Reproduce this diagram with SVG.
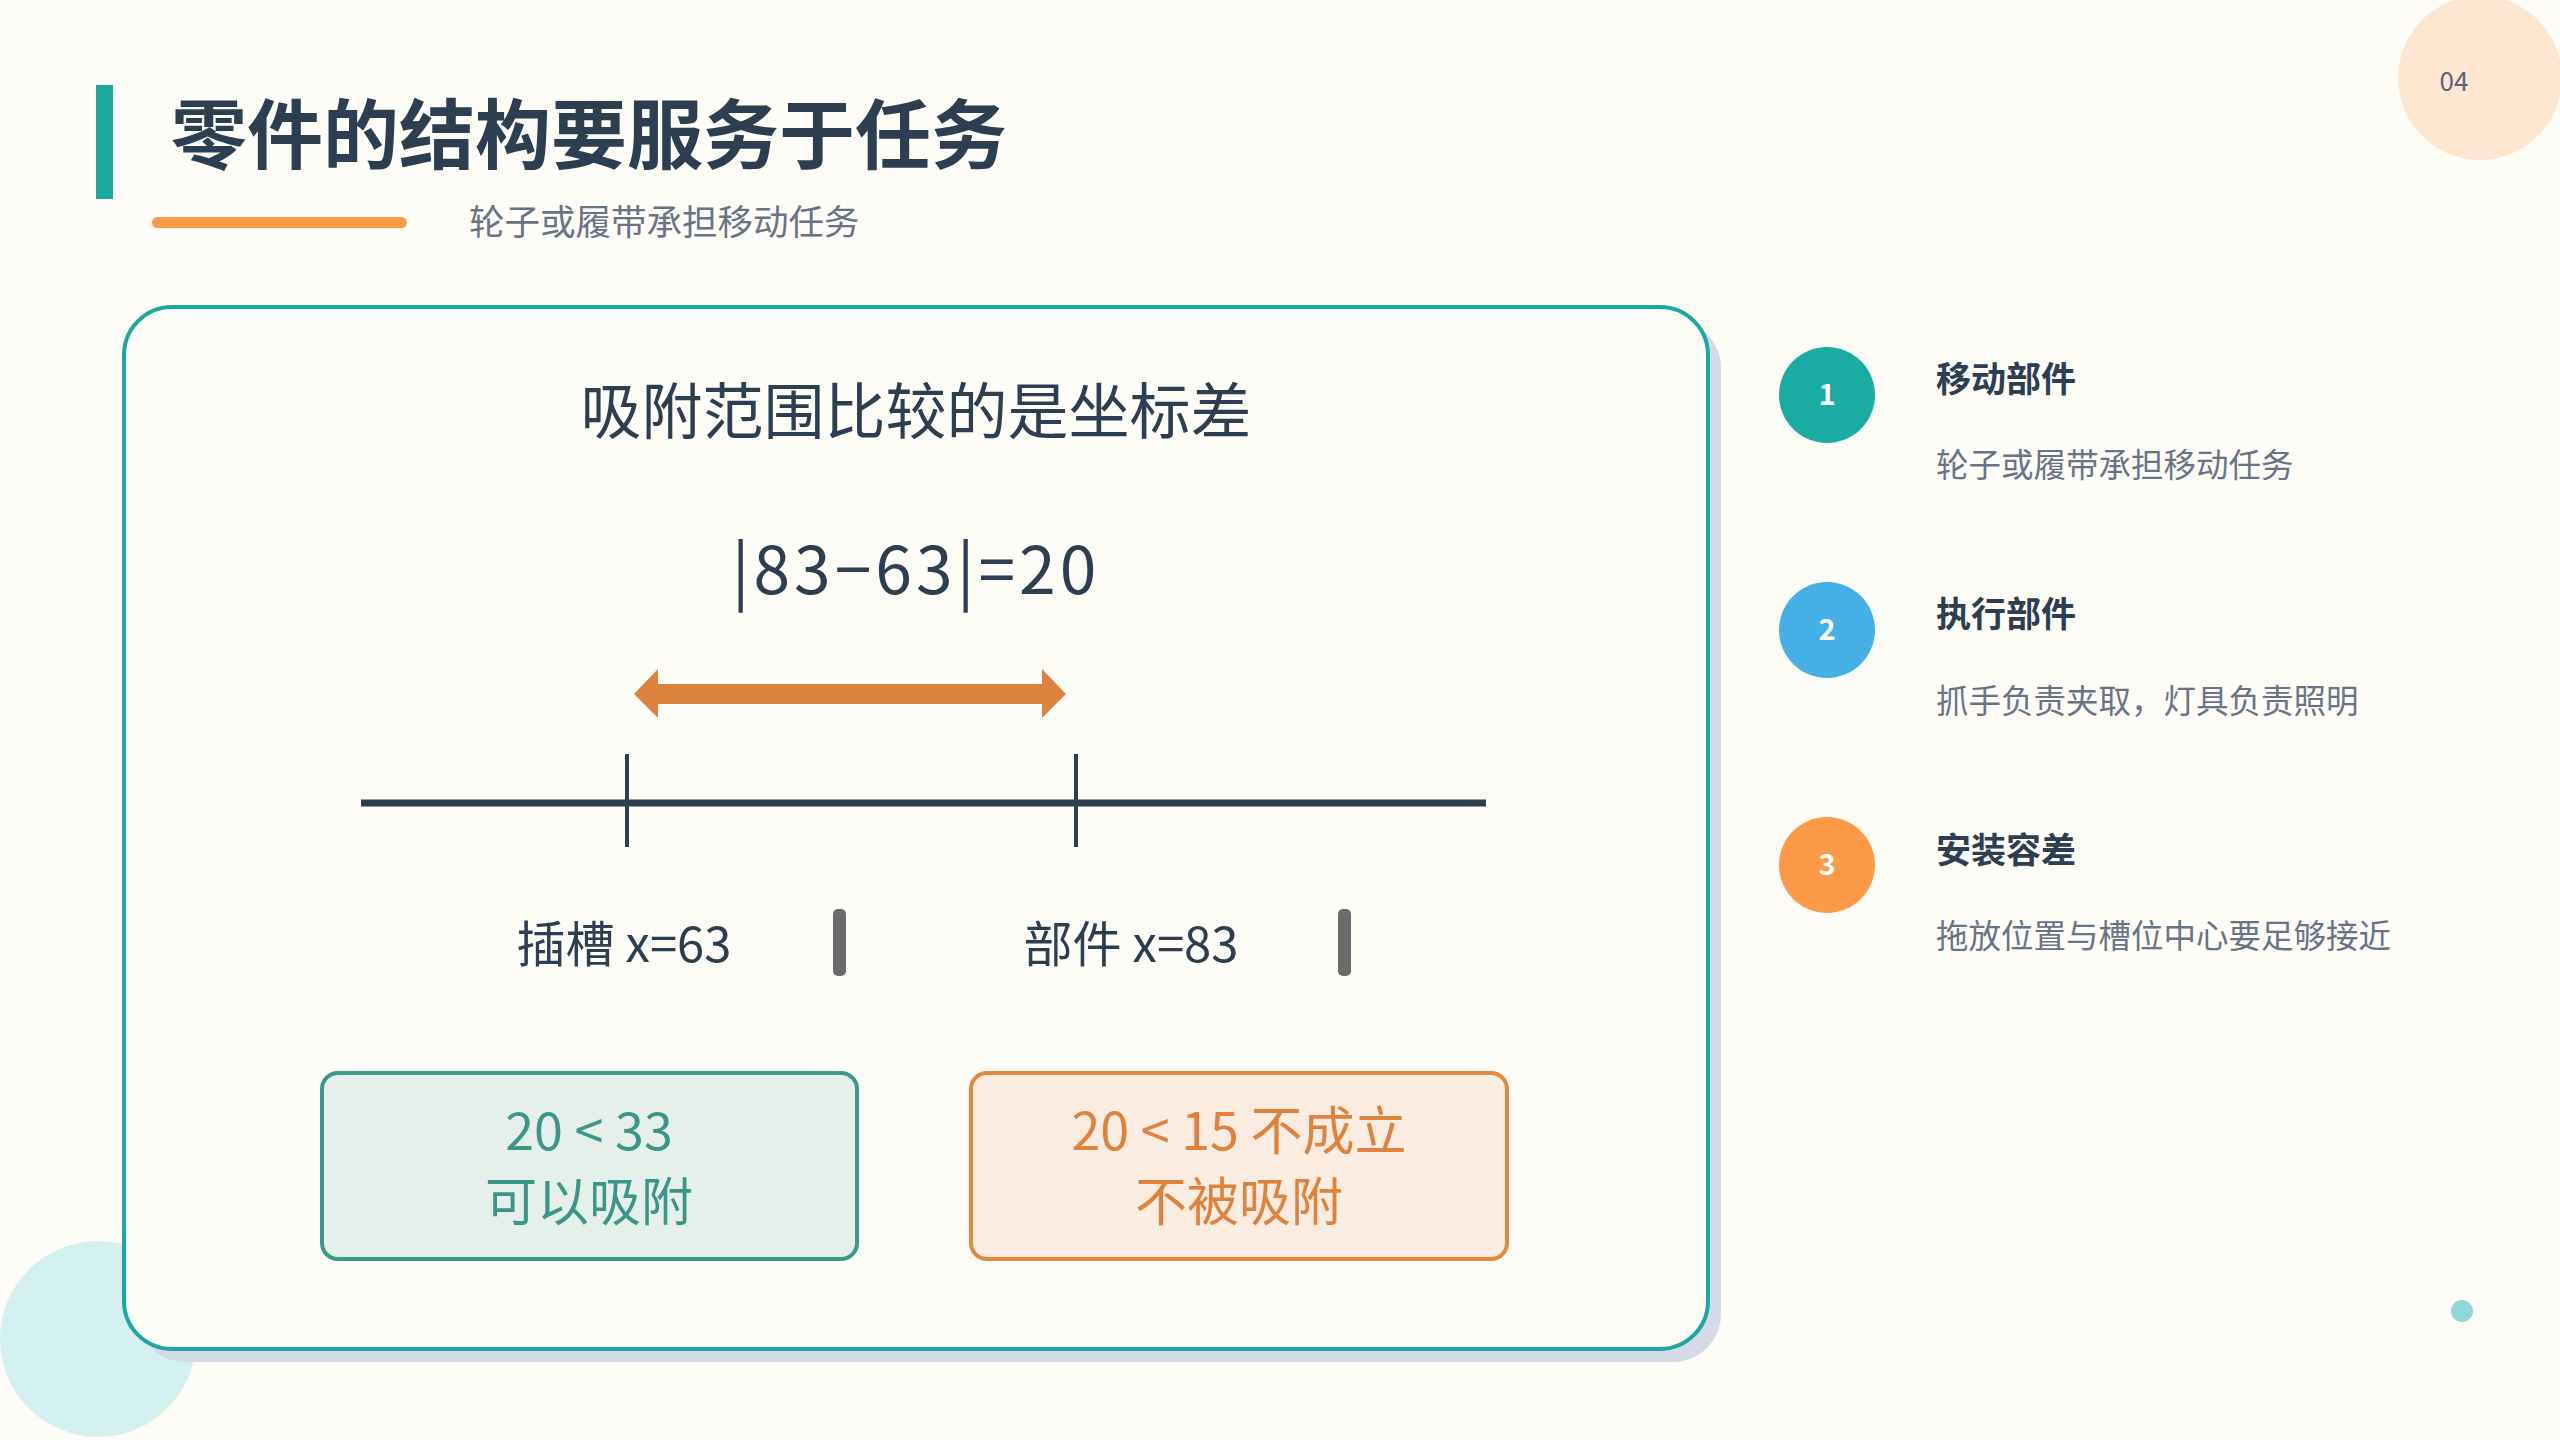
<svg xmlns="http://www.w3.org/2000/svg" width="2560" height="1440" viewBox="0 0 2560 1440">
<defs>
<style>
text{font-family:"Noto Sans CJK SC","Noto Sans",sans-serif}
.dark{fill:#2d3e50}
.h{font-size:35px;font-weight:700;fill:#2d3e50}
.d{font-size:32.5px;fill:#6a7386}
.n{font-size:29px;font-weight:700;fill:#fff;text-anchor:middle}
.lbl{font-size:49px;fill:#2d3e50;text-anchor:middle}
.bx{font-size:52px;text-anchor:middle}
</style>
</defs>
<rect width="2560" height="1440" fill="#fdfcf6"/>
<circle cx="98" cy="1339" r="98" fill="#d5f0f0"/>
<circle cx="2480" cy="78" r="82" fill="#fde6d2"/>
<text x="2454" y="91" font-size="26" fill="#5a6478" text-anchor="middle">04</text>
<circle cx="2462" cy="1311" r="11" fill="#8fd8d8"/>
<g id="header">
<rect x="96" y="85" width="17" height="114" fill="#1aa8a0"/>
<text x="171" y="163" font-size="76" font-weight="700" class="dark">零件的结构要服务于任务</text>
<rect x="152" y="217" width="255" height="11" rx="5.5" fill="#fd9a48"/>
<text x="469" y="235" font-size="35.5" fill="#6a7386">轮子或履带承担移动任务</text>
</g>
<g id="card">
<rect x="137" y="320" width="1584" height="1042" rx="48" fill="#d5dbe6"/>
<rect x="124" y="307" width="1584" height="1042" rx="48" fill="#fdfcf6" stroke="#1aa8a0" stroke-width="4"/>
<text x="916" y="434" font-size="61" text-anchor="middle" class="dark">吸附范围比较的是坐标差</text>
<text x="916" y="594" font-size="66" letter-spacing="4" text-anchor="middle" class="dark">|83−63|=20</text>
</g>
<g id="connectors">
<polygon points="634,694 658,669 658,684 1042,684 1042,669 1066,694 1042,718 1042,704 658,704 658,718" fill="#dc813e"/>
<line x1="361" y1="803" x2="1486" y2="803" stroke="#2d3e50" stroke-width="7"/>
<line x1="627" y1="754" x2="627" y2="847" stroke="#2d3e50" stroke-width="4"/>
<line x1="1076" y1="754" x2="1076" y2="847" stroke="#2d3e50" stroke-width="4"/>
</g>
<g id="labels">
<text x="624" y="962" class="lbl">插槽 x=63</text>
<rect x="833" y="909" width="13" height="67" rx="5" fill="#6b6b6b"/>
<text x="1131" y="962" class="lbl">部件 x=83</text>
<rect x="1338" y="909" width="13" height="67" rx="5" fill="#6b6b6b"/>
</g>
<g id="box-ok">
<rect x="322" y="1073" width="535" height="186" rx="16" fill="#e5f0ea" stroke="#3a9a8a" stroke-width="4"/>
<text x="589" y="1150" class="bx" fill="#3a9688">20 &lt; 33</text>
<text x="589" y="1221" class="bx" fill="#3a9688">可以吸附</text>
</g>
<g id="box-no">
<rect x="971" y="1073" width="536" height="186" rx="16" fill="#faece0" stroke="#e08a40" stroke-width="4"/>
<text x="1239" y="1150" class="bx" fill="#e0823c">20 &lt; 15 不成立</text>
<text x="1239" y="1221" class="bx" fill="#e0823c">不被吸附</text>
</g>
<g id="item1">
<circle cx="1827" cy="395" r="48" fill="#18aca2"/>
<text x="1827" y="405" class="n">1</text>
<text x="1936" y="392" class="h">移动部件</text>
<text x="1936" y="477" class="d">轮子或履带承担移动任务</text>
</g>
<g id="item2">
<circle cx="1827" cy="630" r="48" fill="#45b0e6"/>
<text x="1827" y="640" class="n">2</text>
<text x="1936" y="627" class="h">执行部件</text>
<text x="1936" y="713" class="d">抓手负责夹取，灯具负责照明</text>
</g>
<g id="item3">
<circle cx="1827" cy="865" r="48" fill="#fd9a48"/>
<text x="1827" y="875" class="n">3</text>
<text x="1936" y="863" class="h">安装容差</text>
<text x="1936" y="948" class="d">拖放位置与槽位中心要足够接近</text>
</g>
</svg>
